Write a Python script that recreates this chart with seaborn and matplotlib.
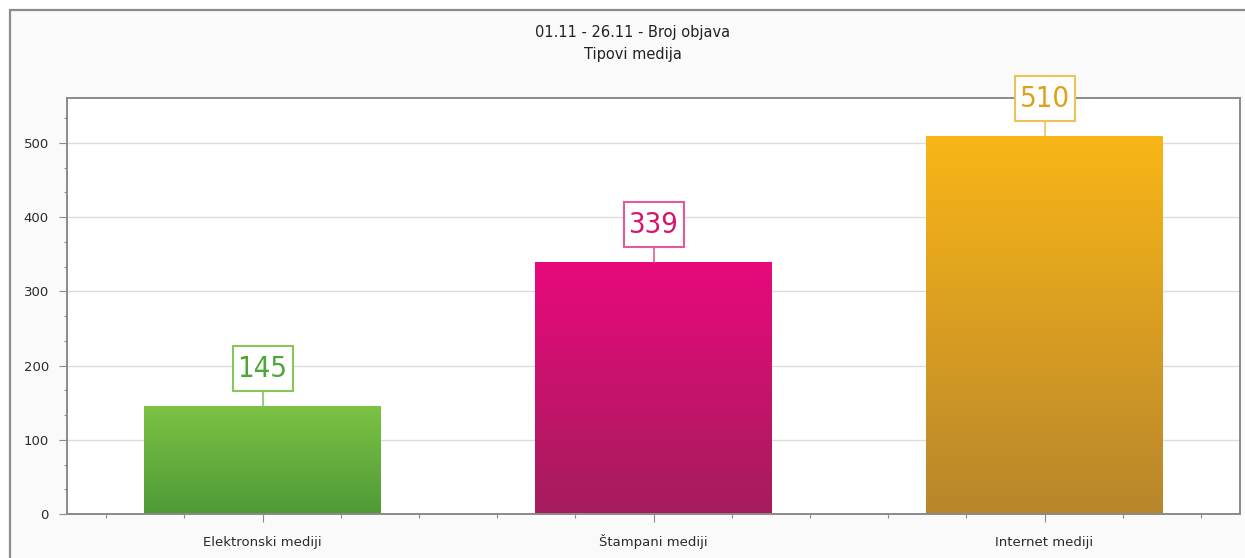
import matplotlib
matplotlib.use("Agg")
import matplotlib.pyplot as plt
import numpy as np
import pandas as pd
import seaborn as sns
from matplotlib.patches import Rectangle
from matplotlib.lines import Line2D
from matplotlib.transforms import Affine2D
from matplotlib.ticker import MultipleLocator
from matplotlib.colors import LinearSegmentedColormap

# Data
categories = ["Elektronski mediji", "Štampani mediji", "Internet mediji"]
counts = [145, 339, 510]
title_lines = ["01.11 - 26.11 - Broj objava", "Tipovi medija"]

# Styling
top_colors = ["#7cc244", "#e8097c", "#f9b617"]
bottom_colors = ["#4f9a37", "#a51d5c", "#b8862c"]
label_colors = ["#4ea636", "#d4156c", "#dfa01c"]
edge_colors = ["#86c65a", "#e35a9c", "#eec25a"]

sns.set_style("white")
plt.rcParams["font.family"] = ["DejaVu Sans"]

W, H, DPI = 1245, 558, 100
fig = plt.figure(figsize=(W / DPI, H / DPI), dpi=DPI)
fig.patch.set_facecolor("white")

# outer panel frame
frame = Rectangle((10 / W, -0.05), 1.2, 1 - 10 / H + 0.05, transform=fig.transFigure,
                  facecolor="#fafafa", edgecolor="#8c8c8c", linewidth=1.6, zorder=-5)
fig.patches.append(frame)

left, right, bottom, top = 67, 1240, 514, 98
ax = fig.add_axes([left / W, 1 - bottom / H, (right - left) / W, (bottom - top) / H])
ax.set_facecolor("white")

df = pd.DataFrame({"category": categories, "count": counts})
sns.barplot(data=df, x="category", y="count", hue="category", palette=top_colors,
            width=0.606, legend=False, ax=ax, saturation=1)

ax.set_xlim(-0.5, 2.5)
ax.set_ylim(0, 560.6)
ax.set_xlabel("")
ax.set_ylabel("")

# vertical gradient fill for each bar
for patch, c_top, c_bot in zip(ax.patches, top_colors, bottom_colors):
    x0, y0 = patch.get_x(), patch.get_y()
    w, h = patch.get_width(), patch.get_height()
    cmap = LinearSegmentedColormap.from_list("g", [c_bot, c_top])
    grad = np.linspace(0, 1, 256).reshape(-1, 1)
    im = ax.imshow(grad, cmap=cmap, origin="lower", aspect="auto",
                   extent=(x0, x0 + w, y0, y0 + h), zorder=2)
    im.set_clip_path(patch)
    patch.set_edgecolor("none")
ax.set_xlim(-0.5, 2.5)
ax.set_ylim(0, 560.6)

# grid and ticks
ax.yaxis.set_major_locator(MultipleLocator(100))
ax.yaxis.set_minor_locator(MultipleLocator(100 / 3))
ax.xaxis.set_minor_locator(MultipleLocator(0.2))
ax.grid(axis="y", which="major", color="#dcdcdc", linewidth=1.0, zorder=0)
ax.set_axisbelow(True)
for s in ax.spines.values():
    s.set_color("#8a8a8a")
    s.set_linewidth(1.4)
ax.tick_params(axis="y", which="major", direction="out", length=6, width=0.8,
               color="#8a8a8a", labelsize=9.5, labelcolor="#2a2a2a", pad=7, left=True)
ax.tick_params(axis="y", which="minor", direction="out", length=2, width=0.8,
               color="#8a8a8a", left=True)
ax.tick_params(axis="x", which="major", direction="out", length=6, width=0.8,
               color="#8a8a8a", labelsize=9.5, labelcolor="#2a2a2a", pad=17, bottom=True)
ax.tick_params(axis="x", which="minor", direction="out", length=3, width=0.8,
               color="#8a8a8a", bottom=True)
for lbl in ax.get_xticklabels():
    lbl.set_verticalalignment("baseline")

# value callouts
fig.canvas.draw()
for i, (v, tc, ec) in enumerate(zip(counts, label_colors, edge_colors)):
    px, py = ax.transData.transform((i, v))
    tr = Affine2D().translate(px, py)
    ax.add_artist(Line2D([0, 0], [0, 15], transform=tr, color=ec, linewidth=1.2,
                         zorder=5, clip_on=False))
    ax.add_patch(Rectangle((-30, 15), 60, 45, transform=tr, facecolor="white",
                           edgecolor=ec, linewidth=1.5, zorder=6, clip_on=False))
    ax.text(0, 37, str(v), transform=tr, ha="center", va="center", color=tc,
            fontsize=21, fontstretch="condensed", family=["DejaVu Sans"],
            zorder=7, clip_on=False)

# title
fig.text(633 / W, 1 - 32 / H, title_lines[0], ha="center", va="center",
         fontsize=10.5, color="#222222")
fig.text(633 / W, 1 - 55 / H, title_lines[1], ha="center", va="center",
         fontsize=10.5, color="#222222")

fig.savefig("out.png", dpi=DPI)
